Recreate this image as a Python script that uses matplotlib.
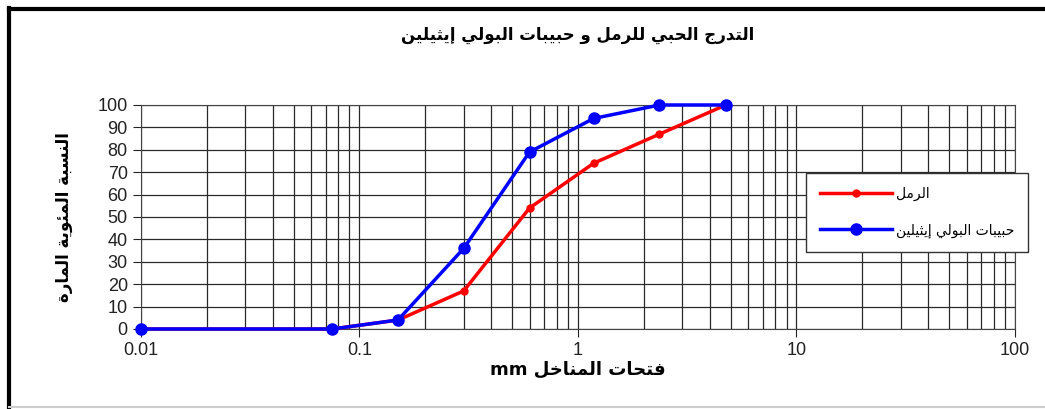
import matplotlib
matplotlib.use("Agg")
import matplotlib.pyplot as plt
from matplotlib.ticker import FixedLocator, NullFormatter
from matplotlib.lines import Line2D

# sieve sizes (mm) and percent passing
sieve_mm = [0.01, 0.075, 0.15, 0.3, 0.6, 1.18, 2.36, 4.75]
sand = [0, 0, 4, 17, 54, 74, 87, 100]
poly = [0, 0, 4, 36, 79, 94, 100, 100]

title_ar = "التدرج الحبي للرمل و حبيبات البولي إيثيلين"
sand_ar = "الرمل"
poly_ar = "حبيبات البولي إيثيلين"
ylabel_ar = "النسبة المئوية المارة"
xlabel_ar = "فتحات المناخل"

xticks = [0.01, 0.1, 1, 10, 100]
xtick_labels = ["0.01", "0.1", "1", "10", "100"]
yticks = list(range(0, 101, 10))

# minimal arabic shaping (matplotlib has no bidi / joining support)
DUAL = {
    "ب": 0xFE8F, "ت": 0xFE95, "ث": 0xFE99, "ج": 0xFE9D, "ح": 0xFEA1, "خ": 0xFEA5,
    "س": 0xFEB1, "ش": 0xFEB5, "ص": 0xFEB9, "ض": 0xFEBD, "ط": 0xFEC1, "ظ": 0xFEC5,
    "ع": 0xFEC9, "غ": 0xFECD, "ف": 0xFED1, "ق": 0xFED5, "ك": 0xFED9, "ل": 0xFEDD,
    "م": 0xFEE1, "ن": 0xFEE5, "ه": 0xFEE9, "ي": 0xFEF1, "ئ": 0xFE89,
}
RIGHT = {
    "ا": 0xFE8D, "إ": 0xFE87, "أ": 0xFE83, "آ": 0xFE81, "ة": 0xFE93, "د": 0xFEA9,
    "ذ": 0xFEAB, "ر": 0xFEAD, "ز": 0xFEAF, "و": 0xFEED, "ى": 0xFEEF, "ؤ": 0xFE85,
}


def shape(text):
    out = []
    for i, ch in enumerate(text):
        prev = text[i - 1] if i > 0 else ""
        nxt = text[i + 1] if i + 1 < len(text) else ""
        join_prev = prev in DUAL
        join_next = ch in DUAL and (nxt in DUAL or nxt in RIGHT)
        if ch in DUAL:
            base = DUAL[ch]
            if join_prev and join_next:
                out.append(chr(base + 3))
            elif join_prev:
                out.append(chr(base + 1))
            elif join_next:
                out.append(chr(base + 2))
            else:
                out.append(chr(base))
        elif ch in RIGHT:
            out.append(chr(RIGHT[ch] + (1 if join_prev else 0)))
        else:
            out.append(ch)
    return "".join(out)[::-1]


plt.rcParams["font.family"] = ["Liberation Sans", "DejaVu Sans"]

fig = plt.figure(figsize=(10.45, 4.09), dpi=100)
ax = fig.add_axes([0.1349, 0.1956, 0.8364, 0.5477])

ax.plot(sieve_mm, sand, color="#ff0000", lw=2.5, marker="o", ms=5, zorder=3,
        clip_on=False)
ax.plot(sieve_mm, poly, color="#0000ff", lw=2.5, marker="o", ms=8, zorder=4,
        clip_on=False)

ax.set_xscale("log")
ax.set_xlim(0.01, 100)
ax.set_ylim(0, 100)
ax.xaxis.set_major_locator(FixedLocator(xticks))
ax.set_xticklabels(xtick_labels)
minors = [m * 10.0 ** e for e in range(-2, 2) for m in range(2, 10)]
ax.xaxis.set_minor_locator(FixedLocator(minors))
ax.xaxis.set_minor_formatter(NullFormatter())
ax.set_yticks(yticks)
ax.grid(True, which="both", color="#2a2a2a", lw=0.9)
ax.tick_params(axis="both", which="major", labelsize=13, length=6,
               color="#222222", labelcolor="#222222")
ax.tick_params(axis="x", which="minor", length=0)
for s in ax.spines.values():
    s.set_color("#444444")

ax.set_xlabel("mm " + shape(xlabel_ar), fontsize=13, fontweight="bold",
              family=["DejaVu Sans"], labelpad=1)
ax.set_ylabel(shape(ylabel_ar), fontsize=12, fontweight="bold",
              family=["DejaVu Sans"], labelpad=18)

fig.text(0.553, 0.915, shape(title_ar), ha="center", va="center", fontsize=12,
         fontweight="bold", family=["DejaVu Sans"])

handles = [
    Line2D([], [], color="#ff0000", lw=2.5, marker="o", ms=5),
    Line2D([], [], color="#0000ff", lw=2.5, marker="o", ms=8),
]
leg = fig.legend(handles, [shape(sand_ar), shape(poly_ar)],
                 loc="upper left", bbox_to_anchor=(0.771, 0.577),
                 prop={"family": "DejaVu Sans", "size": 10},
                 fancybox=False, edgecolor="#333333", framealpha=1,
                 handlelength=5.2, labelspacing=1.6, borderpad=1.0,
                 handletextpad=0.3, borderaxespad=0)
leg.get_frame().set_linewidth(1.0)

# outer chart frame
fig.add_artist(Line2D([0.009, 0.009], [0.0, 0.98], transform=fig.transFigure,
                      color="black", lw=3))
fig.add_artist(Line2D([0.009, 1.0], [0.978, 0.978], transform=fig.transFigure,
                      color="black", lw=3))
fig.add_artist(Line2D([0.009, 1.0], [0.005, 0.005], transform=fig.transFigure,
                      color="#cccccc", lw=1.5))

fig.savefig("out.png", dpi=100)
